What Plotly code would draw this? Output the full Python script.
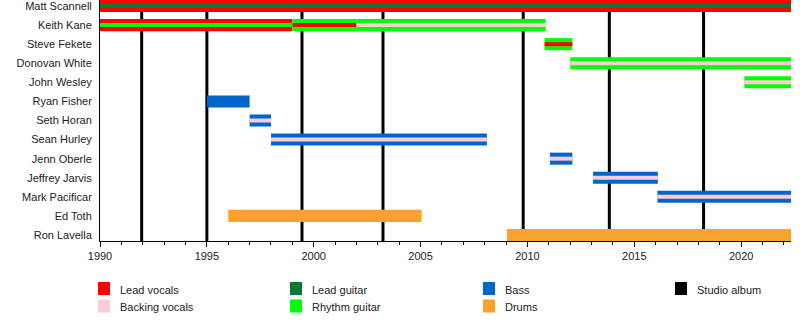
import plotly.graph_objects as go

# Band members, top to bottom
members = [
    "Matt Scannell", "Keith Kane", "Steve Fekete", "Donovan White", "John Wesley",
    "Ryan Fisher", "Seth Horan", "Sean Hurley", "Jenn Oberle", "Jeffrey Jarvis",
    "Mark Pacificar", "Ed Toth", "Ron Lavella",
]

END = 2022.33  # end of the timeline

# Each stint: member, start, end, main role (full bar), secondary role (inner stripe)
stint_member = [
    "Matt Scannell", "Keith Kane", "Keith Kane", "Keith Kane", "Steve Fekete",
    "Donovan White", "John Wesley", "Ryan Fisher", "Seth Horan", "Sean Hurley",
    "Jenn Oberle", "Jeffrey Jarvis", "Mark Pacificar", "Ed Toth", "Ron Lavella",
]
stint_start = [1990, 1990, 1999, 2002, 2010.8, 2012.0, 2020.15, 1995.0, 1997.0,
               1998.0, 2011.05, 2013.07, 2016.08, 1996.0, 2009.04]
stint_end = [END, 1999, 2002, 2010.85, 2012.1, END, END, 1997.0, 1998.0,
             2008.1, 2012.1, 2016.1, END, 2005.05, END]
stint_main = ["Lead vocals", "Lead vocals", "Rhythm guitar", "Rhythm guitar", "Rhythm guitar",
              "Rhythm guitar", "Rhythm guitar", "Bass", "Bass", "Bass",
              "Bass", "Bass", "Bass", "Drums", "Drums"]
stint_inner = ["Lead guitar", "Rhythm guitar", "Lead vocals", "Backing vocals", "Lead vocals",
               "Backing vocals", "Backing vocals", None, "Backing vocals", "Backing vocals",
               "Backing vocals", "Backing vocals", "Backing vocals", None, None]

# Studio album release dates
albums = [1991.95, 1995.0, 1999.45, 2003.24, 2009.8, 2013.83, 2018.24]

roles = ["Lead vocals", "Backing vocals", "Lead guitar", "Rhythm guitar", "Bass", "Drums"]
role_colors = {
    "Lead vocals": "#FF0000",
    "Backing vocals": "#FFCCD5",
    "Lead guitar": "#0B7A35",
    "Rhythm guitar": "#00FF00",
    "Bass": "#0066CC",
    "Drums": "#FAA22B",
    "Studio album": "#000000",
}

FONT = "Liberation Sans, Arial, Helvetica, sans-serif"
OUTER_W = 0.632
INNER_W = 0.21

fig = go.Figure()


def add_layer(role_list, width):
    for role in roles:
        idx = [i for i, r in enumerate(role_list) if r == role]
        if not idx:
            continue
        fig.add_trace(go.Bar(
            orientation="h",
            y=[stint_member[i] for i in idx],
            base=[stint_start[i] for i in idx],
            x=[stint_end[i] - stint_start[i] for i in idx],
            width=width,
            marker=dict(color=role_colors[role], line=dict(width=0)),
            name=role,
            showlegend=False,
            hoverinfo="skip",
        ))


add_layer(stint_main, OUTER_W)
add_layer(stint_inner, INNER_W)

# Album release lines behind the bars
for a in albums:
    fig.add_shape(type="line", xref="x", yref="paper", x0=a, x1=a, y0=0, y1=1,
                  line=dict(color="black", width=3), layer="below")

# Plot geometry in pixels
L, R, T, B = 100, 9, 0, 89
W = 800 - L - R
H = 330 - T - B


def px_x(p):
    return (p - L) / W


def px_y(p):
    return (T + H - p) / H


# Legend drawn as a 4-column grid below the chart
legend_items = [
    ("Lead vocals", 98, 288.5), ("Backing vocals", 98, 306),
    ("Lead guitar", 290, 288.5), ("Rhythm guitar", 290, 306),
    ("Bass", 483, 288.5), ("Drums", 483, 306),
    ("Studio album", 675, 288.5),
]
for label, sx, cy in legend_items:
    fig.add_shape(type="rect", xref="paper", yref="paper",
                  x0=px_x(sx), x1=px_x(sx + 12), y0=px_y(cy - 6.5), y1=px_y(cy + 6.5),
                  fillcolor=role_colors[label], line=dict(width=0))
    fig.add_annotation(xref="paper", yref="paper", x=px_x(sx + 20), y=px_y(cy + 1),
                       text=label, showarrow=False, xanchor="left", yanchor="middle",
                       font=dict(family=FONT, size=11, color="#222222"))

fig.update_layout(
    width=800, height=330,
    margin=dict(l=L, r=R, t=T, b=B, pad=0),
    plot_bgcolor="white", paper_bgcolor="white",
    barmode="overlay",
    showlegend=False,
    font=dict(family=FONT, size=11, color="#222222"),
)
fig.update_xaxes(
    range=[1990, END], tick0=1990, dtick=5,
    showgrid=False, zeroline=False,
    showline=True, linecolor="black", linewidth=1,
    ticks="outside", ticklen=5, tickcolor="black", tickwidth=1,
    minor=dict(dtick=1, ticks="outside", ticklen=3, tickcolor="black", showgrid=False),
    tickfont=dict(family=FONT, size=11, color="#222222"),
)
fig.update_yaxes(
    type="category", categoryorder="array", categoryarray=members,
    range=[len(members) - 1 + 0.316, -0.316],
    showgrid=False, zeroline=False,
    showline=True, linecolor="black", linewidth=1,
    ticks="", ticklabelstandoff=5,
    tickfont=dict(family=FONT, size=11, color="#222222"),
)

fig.write_html("out.html")
